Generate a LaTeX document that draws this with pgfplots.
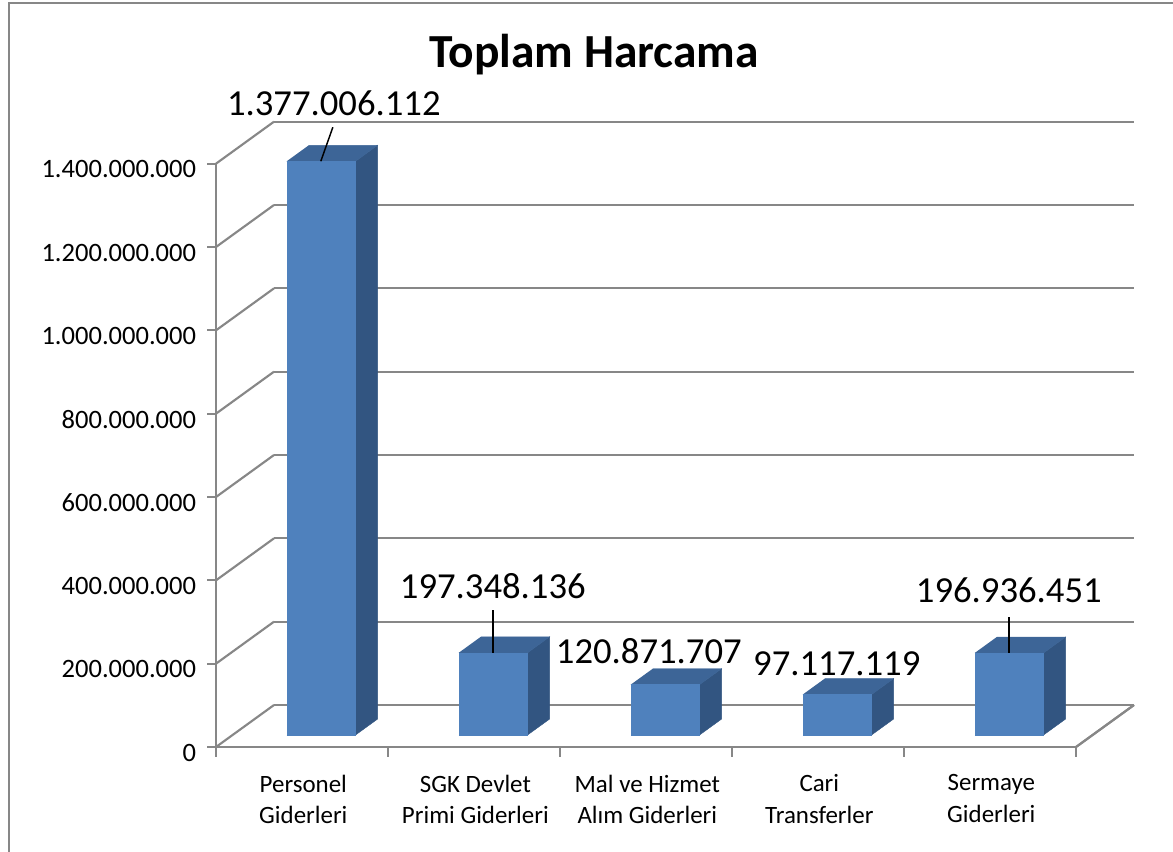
\documentclass[border=0pt]{standalone}
\usepackage{pgfplots}
\pgfplotsset{compat=1.18}
\usepackage{pgfplotstable}
\usepackage{fontspec}
\setmainfont{Carlito}
\usetikzlibrary{calc}
\definecolor{barfront}{HTML}{4F81BD}
\definecolor{bartop}{HTML}{3D6597}
\definecolor{barside}{HTML}{325581}
\definecolor{gridgray}{HTML}{878787}

% values in millions
\pgfplotstableread{
idx value
0 1377.006112
1 197.348136
2 120.871707
3 97.117119
4 196.936451
}\bardata

\pgfplotsset{datalabel/.style={draw=none, mark=none, nodes near coords, point meta=explicit symbolic,
  nodes near coords style={anchor=center, font=\fontsize{27.5}{33}\selectfont, text=black}}}

\begin{document}
\begin{tikzpicture}
\begin{axis}[
  x={(129pt,0pt)}, y={(43.5pt,31.5pt)}, z={(0pt,0.3125pt)},
  xmin=0, xmax=5, ymin=0, ymax=1, zmin=0, zmax=1400,
  axis x line*=left, axis y line*=left, axis z line*=left,
  axis line style={gridgray, line width=1.6pt},
  zmajorgrids, major grid style={gridgray, line width=1.6pt},
  ztick={0,200,400,600,800,1000,1200,1400},
  zticklabels={\mbox{0},\mbox{200.000.000},\mbox{400.000.000},\mbox{600.000.000},\mbox{800.000.000},\mbox{1.000.000.000},\mbox{1.200.000.000},\mbox{1.400.000.000}},
  ytick=\empty,
  xtick={0.5,1.5,2.5,3.5,4.5},
  xticklabels={{Personel\\Giderleri},{SGK Devlet\\Primi Giderleri},{Mal ve Hizmet\\Alım Giderleri},{Cari\\Transferler},{Sermaye\\Giderleri}},
  major tick length=0pt, minor tick length=0pt,
  tick style={draw=none},
  xticklabel style={font=\fontsize{18.7}{23.8}\selectfont, align=center, anchor=north, yshift=-17.25pt, xshift=1pt},
  zticklabel style={font=\fontsize{19.9}{24}\selectfont, anchor=east, xshift=-11.4pt, yshift=-4.25pt},
  /pgf/number format/assume math mode=true,
  clip=false,
]
\coordinate (O) at (axis cs:0,0,0);
\addplot3[gridgray, line width=1.6pt] coordinates {(5,0,0) (5,1,0)};
% tick marks
\pgfplotsinvokeforeach{0,200,400,600,800,1000,1200,1400}{
  \draw[gridgray, line width=1.6pt] (axis cs:0,0,#1) -- ++(-6.75pt,0pt);
}
\pgfplotsinvokeforeach{0,1,2,3,4,5}{
  \draw[gridgray, line width=1.6pt] (axis cs:#1,0,0) -- ++(0pt,-7.5pt);
}
\pgfplotsinvokeforeach{0,1,2,3,4}{
  \pgfplotstablegetelem{#1}{value}\of\bardata
  \let\barval\pgfplotsretval
  \addplot3[fill=barside, draw=barside, line width=0.3pt] coordinates {(#1.715,0.2857,0) (#1.715,0.665,0) (#1.715,0.665,\barval) (#1.715,0.2857,\barval)};
  \addplot3[fill=bartop, draw=bartop, line width=0.3pt] coordinates {(#1.315,0.2857,\barval) (#1.715,0.2857,\barval) (#1.715,0.665,\barval) (#1.315,0.665,\barval)};
  \addplot3[fill=barfront, draw=barfront, line width=0.3pt] coordinates {(#1.315,0.2857,0) (#1.715,0.2857,0) (#1.715,0.2857,\barval) (#1.315,0.2857,\barval)};
}
% leader lines
\addplot3[black, line width=1.1pt] coordinates {(0.513,0.2857,1377.006) (0.583,0.2857,1458.6)};
\addplot3[black, line width=1.1pt] coordinates {(1.513,0.2857,197.348) (1.513,0.2857,300.5)};
\addplot3[black, line width=1.1pt] coordinates {(4.513,0.2857,196.936) (4.513,0.2857,283.3)};
% data labels
\addplot3[datalabel, nodes near coords style={xshift=9.75pt, yshift=43.5pt}] coordinates {(0.513,0.2857,1377.006112) [1.377.006.112]};
\addplot3[datalabel, nodes near coords style={xshift=0pt, yshift=50.25pt}] coordinates {(1.513,0.2857,197.348136) [197.348.136]};
\addplot3[datalabel, nodes near coords style={xshift=-12pt, yshift=25.5pt}] coordinates {(2.513,0.2857,120.871707) [120.871.707]};
\addplot3[datalabel, nodes near coords style={xshift=0pt, yshift=23.25pt}] coordinates {(3.513,0.2857,97.117119) [97.117.119]};
\addplot3[datalabel, nodes near coords style={xshift=0pt, yshift=47.25pt}] coordinates {(4.513,0.2857,196.936451) [196.936.451]};
\end{axis}
\node[font=\bfseries\fontsize{35.6}{42}\selectfont, anchor=center] at ($(O)+(283.5pt,519pt)$) {Toplam Harcama};
\draw[gridgray, line width=1.8pt] ($(O)+(-155.25pt,-90pt)$) -- ($(O)+(-155.25pt,558pt)$) -- ($(O)+(730pt,558pt)$);
\pgfresetboundingbox
\path[use as bounding box] ($(O)+(-162pt,-78pt)$) rectangle ($(O)+(717.75pt,560.25pt)$);
\end{tikzpicture}
\end{document}
